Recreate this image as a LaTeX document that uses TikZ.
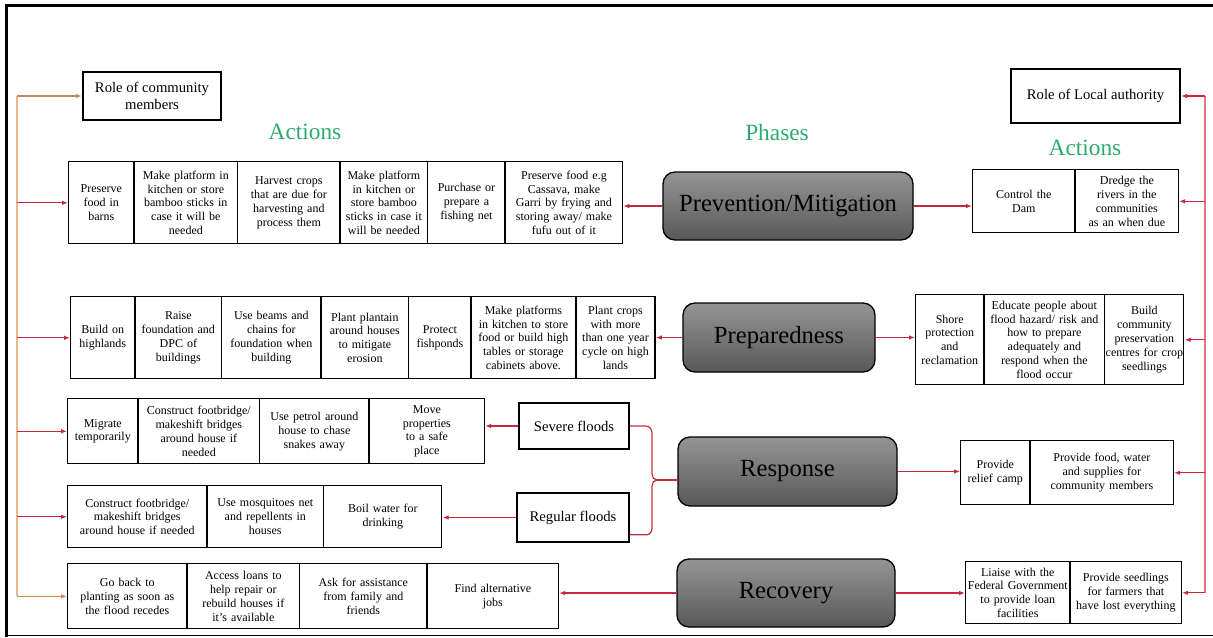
\documentclass[tikz,border=0pt]{standalone}
\usepackage{fontspec}
\setmainfont{Liberation Serif}
\usetikzlibrary{arrows.meta,positioning,matrix}

\definecolor{actgreen}{HTML}{2EAA70}
\definecolor{linkred}{HTML}{C8283C}
\definecolor{trunkpink}{HTML}{E37585}
\definecolor{trunktan}{HTML}{EBB88C}
\definecolor{linktan}{HTML}{C98A5A}
\definecolor{phasetop}{HTML}{959595}
\definecolor{phasebot}{HTML}{585858}

\begin{document}
\begin{tikzpicture}[
  x=0.75pt, y=-0.75pt,
  cell/.style={draw, rectangle, line width=0.8pt, align=center, inner xsep=0.5pt, inner ysep=1pt, outer sep=0pt, anchor=center, font=\fontsize{9}{10.4}\selectfont},
  cw/.code={\pgfmathsetmacro\cellmw{#1*0.75}\pgfmathsetmacro\celltw{#1*0.75-1}\tikzset{minimum width=\cellmw pt, text width=\celltw pt}},
  % column sep is slightly negative so neighbouring borders merge.
  actrow/.style={matrix of nodes, inner sep=0pt, column sep=-0.4pt, anchor=north west, nodes={cell, minimum height=#1*0.75pt}},
  dims/.style 2 args={minimum width=#1*0.75pt, minimum height=#2*0.75pt},
  phase/.style={draw, line width=1pt, rounded corners=9pt, top color=phasetop, bottom color=phasebot, font=\fontsize{18.5}{20}\selectfont},
  flood/.style={draw, line width=0.8pt, font=\fontsize{11}{13}\selectfont},
  role/.style={draw, line width=1.6pt, align=center, font=\fontsize{11}{12.5}\selectfont},
  heading/.style={text=actgreen, font=\fontsize{17.5}{20}\selectfont},
  link/.style={-{Latex[length=4.5pt,width=3.5pt]}, draw=linkred, line width=0.9pt},
  tanlink/.style={link, draw=linktan},
  brace/.style={draw=linkred, line width=0.9pt},
]
\useasboundingbox (0,0) rectangle (1213,637);

% frame
\draw[line width=2.25pt] (6.5,637) -- (6.5,5.5) -- (1213,5.5);
\draw[line width=1pt] (5,635.5) -- (1213,635.5);

% headings and roles
\node[role, dims={138}{48}] (commrole) at (152,96) {Role of community\\members};
\node[role, dims={169}{54}] (localrole) at (1095.5,96) {Role of Local authority};
\node[heading] (actleft) at (305,132) {Actions};
\node[heading] (phasehd) at (777,133) {Phases};
\node[heading] (actright) at (1085,148) {Actions};

% phases
\node[phase, dims={250}{68}] (prev) at (788,206) {Prevention/Mitigation};
\node[phase, dims={192}{69}] (prep) at (779,337.5) {Preparedness};
\node[phase, dims={219}{69}] (resp) at (787.5,471.5) {Response};
\node[phase, dims={218}{68}] (recov) at (786,593) {Recovery};

\node[flood, dims={110}{46}] (severe) at (574,426) {Severe floods};
\node[flood, dims={112}{49}] (regular) at (573,517.5) {Regular floods};

% community actions
\matrix[actrow=82, at={(68,161)}] (prevacts) {
  |[cw=65]| {Preserve\\food in\\barns} &
  |[cw=103]| {Make platform in\\kitchen or store\\bamboo sticks in\\case it will be\\needed} &
  |[cw=102]| {Harvest crops\\that are due for\\harvesting and\\process them} &
  |[cw=87]| {Make platform\\in kitchen or\\store bamboo\\sticks in case it\\will be needed} &
  |[cw=77]| {Purchase or\\prepare a\\fishing net} &
  |[cw=117]| {Preserve food e.g\\Cassava, make\\Garri by frying and\\storing away/ make\\fufu out of it} \\
};

\matrix[actrow=82, at={(70,296)}] (prepacts) {
  |[cw=64]| {Build on\\highlands} &
  |[cw=86]| {Raise\\foundation and\\DPC of\\buildings} &
  |[cw=99]| {Use beams and\\chains for\\foundation when\\building} &
  |[cw=87]| {Plant plantain\\around houses\\to mitigate\\erosion} &
  |[cw=62]| {Protect\\fishponds} &
  |[cw=104]| {Make platforms\\in kitchen to store\\food or build high\\tables or storage\\cabinets above.} &
  |[cw=79]| {Plant crops\\with more\\than one year\\cycle on high\\lands} \\
};

\matrix[actrow=65, at={(67,398)}] (sevacts) {
  |[cw=70]| {Migrate\\temporarily} &
  |[cw=121]| {Construct footbridge/\\makeshift bridges\\around house if\\needed} &
  |[cw=109]| {Use petrol around\\house to chase\\snakes away} &
  |[cw=115]| {Move\\properties\\to a safe\\place} \\
};

\matrix[actrow=62, at={(67,485)}] (regacts) {
  |[cw=139]| {Construct footbridge/\\makeshift bridges\\around house if needed} &
  |[cw=116]| {Use mosquitoes net\\and repellents in\\houses} &
  |[cw=118]| {Boil water for\\drinking} \\
};

\matrix[actrow=65, at={(67,563)}] (recacts) {
  |[cw=119]| {Go back to\\planting as soon as\\the flood recedes} &
  |[cw=112]| {Access loans to\\help repair or\\rebuild houses if\\it's available} &
  |[cw=127]| {Ask for assistance\\from family and\\friends} &
  |[cw=131]| {Find alternative\\jobs} \\
};

% local authority actions
\matrix[actrow=63, at={(972,169)}] (prevlocal) {
  |[cw=102]| {Control the\\Dam} &
  |[cw=103]| {Dredge the\\rivers in the\\communities\\as an when due} \\
};

\matrix[actrow=90, at={(915,294)}] (preplocal) {
  |[cw=68]| {Shore\\protection\\and\\reclamation} &
  |[cw=120]| {Educate people about\\flood hazard/ risk and\\how to prepare\\adequately and\\respond when the\\flood occur} &
  |[cw=79]| {Build\\community\\preservation\\centres for crop\\seedlings} \\
};

\matrix[actrow=64, at={(960,440)}] (resplocal) {
  |[cw=69]| {Provide\\relief camp} &
  |[cw=143]| {Provide food, water\\and supplies for\\community members} \\
};

\matrix[actrow=62, at={(965,561)}] (recovlocal) {
  |[cw=104]| {Liaise with the\\Federal Government\\to provide loan\\facilities} &
  |[cw=111]| {Provide seedlings\\for farmers that\\have lost everything} \\
};

% phases to actions
\draw[link] (prev.west) -- (prev.west -| prevacts.east);
\draw[link] (prev.east) -- (prev.east -| prevlocal.west);
\draw[link] (prep.west) -- (prep.west -| prepacts.east);
\draw[link] (prep.east) -- (prep.east -| preplocal.west);
\draw[link] (resp.east) -- (resp.east -| resplocal.west);
\draw[link] (recov.west) -- (recov.west -| recacts.east);
\draw[link] (recov.east) -- (recov.east -| recovlocal.west);
\draw[link] (severe.west) -- (severe.west -| sevacts.east);
\draw[link] (regular.west) -- (regular.west -| regacts.east);

% brace from the floods to response
\coordinate (cusp) at (657,480);
\draw[brace] (severe.east) -- (646,426) to[out=0,in=90] (652,433) -- (652,474) to[out=-90,in=180] (cusp);
\draw[brace] ([yshift=-13pt]regular.east) -- ++(17,0) to[out=0,in=-90] (652,528) -- (652,486) to[out=90,in=180] (cusp);
\draw[brace] (cusp) -- (cusp -| resp.west);

% community trunk
\coordinate (ltop) at (17,96);
\coordinate (lbot) at (ltop |- recacts.west);
\draw[draw=trunktan, line width=1.5pt] (ltop) -- (lbot);
\draw[tanlink] (ltop) -- (commrole.west);
\draw[link] (prevacts.west -| ltop) -- (prevacts.west);
\draw[link] (prepacts.west -| ltop) -- (prepacts.west);
\draw[link] (sevacts.west -| ltop) -- (sevacts.west);
\draw[link] (regacts.west -| ltop) -- (regacts.west);
\draw[tanlink] (lbot) -- (recacts.west);

% local authority trunk
\coordinate (rtop) at (1205,96);
\coordinate (rbot) at (rtop |- recovlocal.east);
\draw[draw=trunkpink, line width=1.5pt] (rtop) -- (rbot);
\draw[link] (rtop) -- (localrole.east);
\draw[link] (prevlocal.east -| rtop) -- (prevlocal.east);
\draw[link] (preplocal.east -| rtop) -- (preplocal.east);
\draw[link] (resplocal.east -| rtop) -- (resplocal.east);
\draw[link] (rbot) -- (recovlocal.east);
\end{tikzpicture}
\end{document}
